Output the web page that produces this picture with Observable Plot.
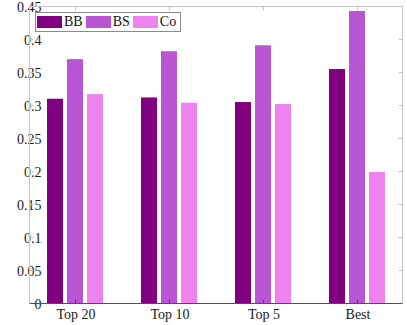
<!DOCTYPE html>
<html><head><meta charset="utf-8">
<script src="https://cdn.jsdelivr.net/npm/d3@7"></script>
<script src="https://cdn.jsdelivr.net/npm/@observablehq/plot@0.6"></script>
<style>
body{margin:0;background:#fff;}
#wrap{position:relative;width:407px;height:325px;font-family:"Liberation Serif",serif;}
#legend{position:absolute;left:35px;top:12px;height:20px;box-sizing:border-box;padding:0 4px 0 1px;border:1px solid #8a8a8a;background:#fff;display:flex;align-items:center;font-size:14px;color:#111;}
#legend .it{display:flex;align-items:center;margin-right:3px;}
#legend .it:last-child{margin-right:0;}
#legend .sw{width:25px;height:12px;margin-right:2px;}
</style></head>
<body><div id="wrap"><div id="legend"></div></div>
<script>
const groups = ["Top 20", "Top 10", "Top 5", "Best"];
const series = ["BB", "BS", "Co"];
const colors = ["#800080", "#ba55d3", "#ee82ee"];
const BB = [0.311, 0.313, 0.306, 0.356];
const BS = [0.371, 0.383, 0.392, 0.444];
const Co = [0.318, 0.305, 0.303, 0.200];
const yTicks = [0, 0.05, 0.1, 0.15, 0.2, 0.25, 0.3, 0.35, 0.4, 0.45];
const yTickLabels = ["0", "0.05", "0.1", "0.15", "0.2", "0.25", "0.3", "0.35", "0.4", "0.45"];

const vals = {BB, BS, Co};
const data = [];
groups.forEach((g, i) => series.forEach(s => data.push({group: g, series: s, value: vals[s][i]})));
const fmt = d => yTickLabels[yTicks.indexOf(d)] ?? "";
const darkAxis = "#505050", lightAxis = "#c4c4c4";
const W = 407, H = 325, mL = 30, mR = 4, mT = 7, mB = 21;

const chart = Plot.plot({
  width: W, height: H,
  marginLeft: mL, marginRight: mR, marginTop: mT, marginBottom: mB,
  style: {fontFamily: "Liberation Serif", fontSize: "14px", color: "#1a1a1a", background: "#fff", overflow: "visible"},
  fx: {domain: groups, paddingInner: 0.375, paddingOuter: 0.163, label: null},
  x: {domain: series, paddingInner: 0.19, paddingOuter: 0, axis: null},
  y: {domain: [0, 0.45], label: null},
  color: {domain: series, range: colors},
  marks: [
    Plot.axisY({anchor: "left", ticks: yTicks, tickSize: 0, tickPadding: 5, tickFormat: fmt, label: null}),
    Plot.axisFx({anchor: "bottom", tickSize: 0, tickPadding: 5, label: null}),
    Plot.barY(data, {fx: "group", x: "series", y: "value", fill: "series"})
  ]
});
document.getElementById("wrap").prepend(chart);

// MATLAB-style box with inward ticks, positioned with the chart's own scales
const svg = d3.select(chart);
const ys = chart.scale("y"), fxs = chart.scale("fx");
const gl = svg.append("g").attr("stroke", lightAxis).attr("fill", "none");
const gd = svg.append("g").attr("stroke", darkAxis).attr("fill", "none");
const tl = 4;
const x0 = mL - 0.5, x1 = W - mR - 0.5, y0 = mT - 0.5, y1 = H - mB - 0.5;
yTicks.forEach(t => {
  const y = Math.round(ys.apply(t)) - 0.5;
  gl.append("line").attr("x1", x0).attr("x2", x0 + tl).attr("y1", y).attr("y2", y);
  gl.append("line").attr("x1", x1 - tl).attr("x2", x1).attr("y1", y).attr("y2", y);
});
groups.forEach(gr => {
  const x = Math.round(fxs.apply(gr) + fxs.bandwidth / 2) - 0.5;
  gl.append("line").attr("x1", x).attr("x2", x).attr("y1", y0).attr("y2", y0 + tl);
  gd.append("line").attr("x1", x).attr("x2", x).attr("y1", y1 - tl).attr("y2", y1);
});
gl.append("line").attr("x1", x0).attr("x2", x1).attr("y1", y0).attr("y2", y0);
gl.append("line").attr("x1", x1).attr("x2", x1).attr("y1", y0).attr("y2", y1);
gl.append("line").attr("x1", x0).attr("x2", x0).attr("y1", y0).attr("y2", y1);
gd.append("line").attr("x1", x0).attr("x2", x1).attr("y1", y1).attr("y2", y1);

const leg = document.getElementById("legend");
series.forEach((s, i) => {
  const it = document.createElement("div");
  it.className = "it";
  it.innerHTML = `<div class="sw" style="background:${colors[i]}"></div><span>${s}</span>`;
  leg.appendChild(it);
});
</script></body></html>
